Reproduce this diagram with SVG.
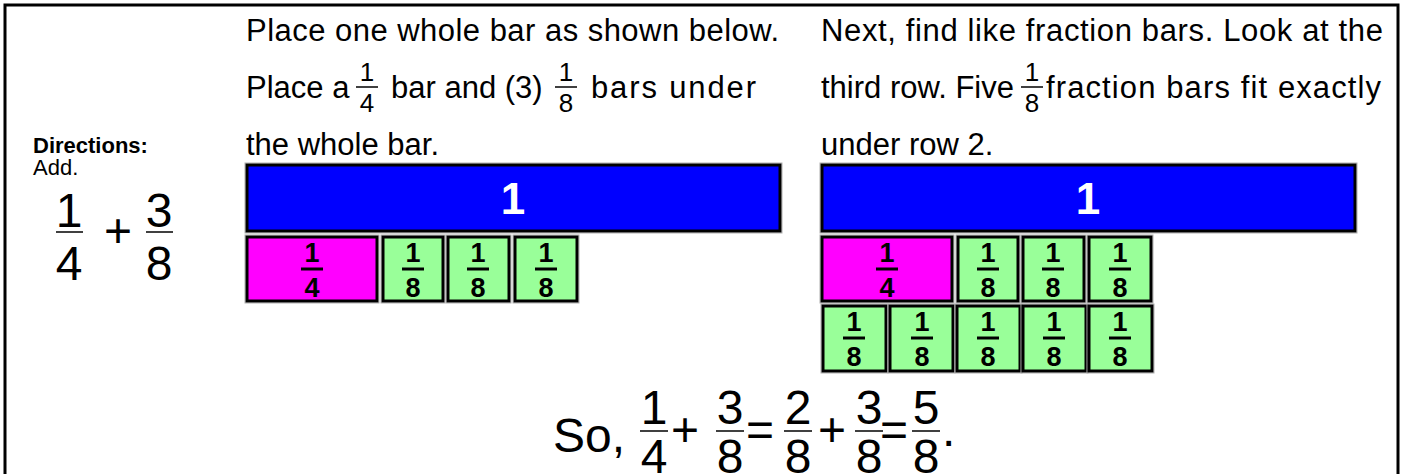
<svg xmlns="http://www.w3.org/2000/svg" width="1403" height="474" viewBox="0 0 1403 474">
  <style>
    text { font-family: "Liberation Sans", Arial, sans-serif; fill: #000; }
    .hd { font-size: 31px; }
    .fs { font-size: 26px; text-anchor: middle; }
    .big { font-size: 48px; }
    .bigc { font-size: 48px; text-anchor: middle; }
    .one { font-size: 44px; font-weight: bold; fill: #fff; text-anchor: middle; }
    .cell { font-size: 27px; font-weight: bold; text-anchor: middle; }
    .whole { fill: #0000ff; stroke: #000; stroke-width: 3; }
    .quarter { fill: #ff00ff; stroke: #000; stroke-width: 3; }
    .eighth { fill: #99ff99; stroke: #000; stroke-width: 3; }
    .halo { fill: none; stroke: #b0b0b0; stroke-width: 1; }
    .fb { stroke: #000; stroke-width: 1.5; }
    .fbb { stroke: #000; stroke-width: 3; }
  </style>

  <!-- frame -->
  <rect x="5" y="5" width="1393" height="480" fill="#fff" stroke="#000" stroke-width="3"/>

  <!-- directions -->
  <g id="directions">
    <text x="33" y="153" font-size="22" font-weight="bold">Directions:</text>
    <text x="33" y="175" font-size="22">Add.</text>
    <text class="bigc" x="69" y="227">1</text>
    <line class="fb" x1="56" y1="232" x2="83" y2="232"/>
    <text class="bigc" x="69" y="280">4</text>
    <text class="big" x="104" y="247">+</text>
    <text class="bigc" x="159" y="227">3</text>
    <line class="fb" x1="146" y1="232" x2="173" y2="232"/>
    <text class="bigc" x="159" y="280">8</text>
  </g>

  <!-- step 1 text -->
  <g id="step1-text">
    <text class="hd" x="246" y="41" textLength="533" lengthAdjust="spacing">Place one whole bar as shown below.</text>
    <text class="hd" x="246" y="98">Place a</text>
    <text class="fs" x="367" y="81">1</text>
    <line class="fb" x1="356" y1="87" x2="378" y2="87"/>
    <text class="fs" x="367" y="112">4</text>
    <text class="hd" x="391" y="98">bar and (3)</text>
    <text class="fs" x="566" y="81">1</text>
    <line class="fb" x1="555" y1="87" x2="577" y2="87"/>
    <text class="fs" x="566" y="112">8</text>
    <text class="hd" x="591" y="98" textLength="165" lengthAdjust="spacing">bars under</text>
    <text class="hd" x="246" y="155">the whole bar.</text>
  </g>

  <!-- step 2 text -->
  <g id="step2-text">
    <text class="hd" x="821" y="41" textLength="562" lengthAdjust="spacing">Next, find like fraction bars. Look at the</text>
    <text class="hd" x="821" y="98">third row. Five</text>
    <text class="fs" x="1032" y="81">1</text>
    <line class="fb" x1="1021" y1="87" x2="1043" y2="87"/>
    <text class="fs" x="1032" y="112">8</text>
    <text class="hd" x="1046" y="98" textLength="335" lengthAdjust="spacing">fraction bars fit exactly</text>
    <text class="hd" x="821" y="155">under row 2.</text>
  </g>

  <!-- step 1 bars -->
  <g id="bars-left">
    <rect class="halo" x="245" y="163" width="537" height="70"/>
    <rect class="whole" x="247" y="165" width="533" height="66"/>
    <text class="one" x="513" y="214">1</text>

    <rect class="halo" x="245" y="235" width="134" height="68"/>
    <rect class="quarter" x="247" y="237" width="130" height="64"/>
    <text class="cell" x="312" y="262">1</text>
    <line class="fbb" x1="301" y1="269" x2="323" y2="269"/>
    <text class="cell" x="312" y="297">4</text>

    <rect class="halo" x="381" y="235" width="64" height="68"/>
    <rect class="eighth" x="383" y="237" width="60" height="64"/>
    <text class="cell" x="413" y="262">1</text>
    <line class="fbb" x1="402" y1="269" x2="424" y2="269"/>
    <text class="cell" x="413" y="297">8</text>

    <rect class="halo" x="446" y="235" width="65" height="68"/>
    <rect class="eighth" x="448" y="237" width="61" height="64"/>
    <text class="cell" x="478" y="262">1</text>
    <line class="fbb" x1="467" y1="269" x2="489" y2="269"/>
    <text class="cell" x="478" y="297">8</text>

    <rect class="halo" x="513" y="235" width="66" height="68"/>
    <rect class="eighth" x="515" y="237" width="62" height="64"/>
    <text class="cell" x="546" y="262">1</text>
    <line class="fbb" x1="535" y1="269" x2="557" y2="269"/>
    <text class="cell" x="546" y="297">8</text>
  </g>

  <!-- step 2 bars -->
  <g id="bars-right">
    <rect class="halo" x="820" y="163" width="537" height="70"/>
    <rect class="whole" x="822" y="165" width="533" height="66"/>
    <text class="one" x="1088" y="214">1</text>

    <rect class="halo" x="820" y="235" width="134" height="68"/>
    <rect class="quarter" x="822" y="237" width="130" height="64"/>
    <text class="cell" x="887" y="262">1</text>
    <line class="fbb" x1="876" y1="269" x2="898" y2="269"/>
    <text class="cell" x="887" y="297">4</text>

    <rect class="halo" x="956" y="235" width="64" height="68"/>
    <rect class="eighth" x="958" y="237" width="60" height="64"/>
    <text class="cell" x="988" y="262">1</text>
    <line class="fbb" x1="977" y1="269" x2="999" y2="269"/>
    <text class="cell" x="988" y="297">8</text>

    <rect class="halo" x="1021" y="235" width="65" height="68"/>
    <rect class="eighth" x="1023" y="237" width="61" height="64"/>
    <text class="cell" x="1053" y="262">1</text>
    <line class="fbb" x1="1042" y1="269" x2="1064" y2="269"/>
    <text class="cell" x="1053" y="297">8</text>

    <rect class="halo" x="1087" y="235" width="66" height="68"/>
    <rect class="eighth" x="1089" y="237" width="62" height="64"/>
    <text class="cell" x="1120" y="262">1</text>
    <line class="fbb" x1="1109" y1="269" x2="1131" y2="269"/>
    <text class="cell" x="1120" y="297">8</text>

    <!-- third row: five eighths -->
    <rect class="halo" x="821" y="304" width="67" height="69"/>
    <rect class="eighth" x="823" y="306" width="63" height="65"/>
    <text class="cell" x="854" y="331">1</text>
    <line class="fbb" x1="843" y1="338" x2="865" y2="338"/>
    <text class="cell" x="854" y="366">8</text>

    <rect class="halo" x="888" y="304" width="67" height="69"/>
    <rect class="eighth" x="890" y="306" width="63" height="65"/>
    <text class="cell" x="922" y="331">1</text>
    <line class="fbb" x1="911" y1="338" x2="933" y2="338"/>
    <text class="cell" x="922" y="366">8</text>

    <rect class="halo" x="955" y="304" width="67" height="69"/>
    <rect class="eighth" x="957" y="306" width="63" height="65"/>
    <text class="cell" x="988" y="331">1</text>
    <line class="fbb" x1="977" y1="338" x2="999" y2="338"/>
    <text class="cell" x="988" y="366">8</text>

    <rect class="halo" x="1021" y="304" width="67" height="69"/>
    <rect class="eighth" x="1023" y="306" width="63" height="65"/>
    <text class="cell" x="1054" y="331">1</text>
    <line class="fbb" x1="1043" y1="338" x2="1065" y2="338"/>
    <text class="cell" x="1054" y="366">8</text>

    <rect class="halo" x="1087" y="304" width="67" height="69"/>
    <rect class="eighth" x="1089" y="306" width="63" height="65"/>
    <text class="cell" x="1120" y="331">1</text>
    <line class="fbb" x1="1109" y1="338" x2="1131" y2="338"/>
    <text class="cell" x="1120" y="366">8</text>
  </g>

  <!-- summary equation -->
  <g id="summary">
    <text class="big" x="553" y="452">So,</text>
    <text class="bigc" x="654" y="424">1</text>
    <line class="fb" x1="640" y1="431" x2="668" y2="431"/>
    <text class="bigc" x="654" y="473">4</text>
    <text class="big" x="671" y="446">+</text>
    <text class="bigc" x="730" y="424">3</text>
    <line class="fb" x1="716" y1="431" x2="744" y2="431"/>
    <text class="bigc" x="730" y="473">8</text>
    <text class="big" x="746" y="446">=</text>
    <text class="bigc" x="798" y="424">2</text>
    <line class="fb" x1="784" y1="431" x2="812" y2="431"/>
    <text class="bigc" x="798" y="473">8</text>
    <text class="big" x="818" y="446">+</text>
    <text class="bigc" x="869" y="424">3</text>
    <line class="fb" x1="855" y1="431" x2="883" y2="431"/>
    <text class="bigc" x="869" y="473">8</text>
    <text class="big" x="880" y="446">=</text>
    <text class="bigc" x="926" y="424">5</text>
    <line class="fb" x1="912" y1="431" x2="940" y2="431"/>
    <text class="bigc" x="926" y="473">8</text>
    <text class="big" x="942" y="446">.</text>
  </g>
</svg>
